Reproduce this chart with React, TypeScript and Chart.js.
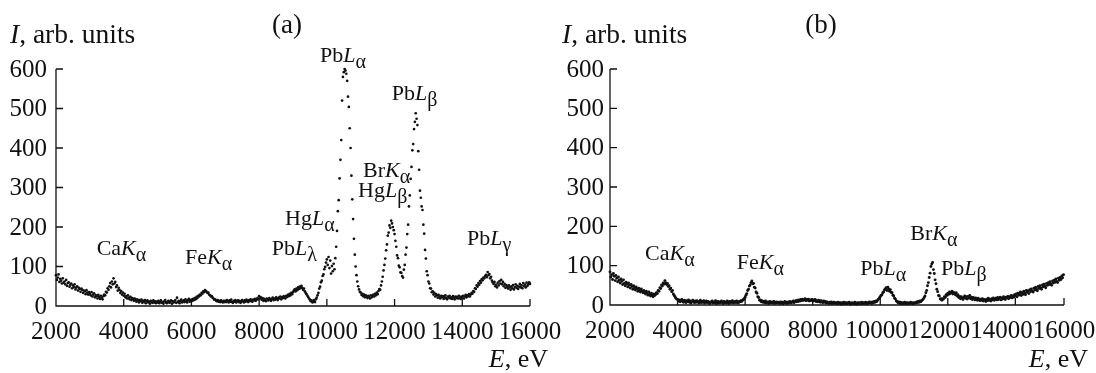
import { useEffect, useRef } from "react";
import { Chart, registerables } from "chart.js";

Chart.register(...registerables);

// ---------- data ----------
const E_START = 2000; // eV, first channel
const E_STEP = 25; // eV per channel

// Panel (a): intensity, arb. units, channels from 2000 eV in 25 eV steps (to 16000 eV)
const A_INTENSITY = [
  78, 66, 72, 80, 61, 69, 64, 57, 70, 59, 62, 55, 66, 51, 58, 60, 49, 54, 57, 45, 52, 48, 55, 42, 47, 50, 39, 46, 43, 36, 44, 41, 33, 39, 37, 30, 40, 34, 29, 35,
  31, 27, 35, 24, 29, 32, 22, 27, 25, 19, 28, 23, 18, 26, 21, 17, 25, 29, 27, 36, 34, 45, 41, 50, 58, 47, 62, 55, 70, 57, 61, 48, 52, 39, 46, 41, 33, 38, 29, 34,
  26, 31, 22, 25, 19, 27, 21, 17, 23, 15, 20, 18, 13, 19, 16, 11, 17, 14, 9, 15, 12, 16, 8, 13, 11, 15, 7, 12, 14, 9, 11, 6, 13, 10, 8, 14, 9, 12, 7, 11,
  9, 13, 7, 11, 14, 8, 10, 6, 12, 15, 9, 7, 11, 13, 8, 10, 14, 6, 12, 9, 11, 15, 8, 21, 10, 13, 7, 12, 16, 9, 11, 14, 10, 17, 12, 9, 15, 18, 11, 14,
  16, 13, 18, 15, 20, 17, 23, 20, 26, 24, 29, 27, 33, 31, 37, 35, 40, 38, 36, 33, 34, 29, 27, 24, 25, 21, 19, 16, 17, 14, 12, 15, 11, 13, 10, 14, 11, 9, 13, 10,
  13, 10, 15, 12, 9, 14, 11, 16, 10, 8, 13, 11, 15, 9, 12, 14, 10, 13, 8, 11, 15, 12, 9, 14, 11, 16, 13, 10, 15, 12, 17, 13, 11, 16, 14, 18, 13, 16, 20, 17,
  25, 19, 22, 16, 20, 13, 18, 15, 12, 19, 16, 14, 20, 17, 13, 18, 21, 15, 19, 16, 22, 18, 15, 21, 19, 24, 17, 22, 20, 25, 21, 19, 26, 23, 28, 25, 31, 27, 33, 30,
  35, 39, 42, 37, 44, 40, 47, 43, 49, 45, 51, 46, 41, 44, 37, 33, 30, 26, 23, 19, 16, 12, 14, 9, 11, 15, 10, 17, 21, 27, 33, 44, 49, 60, 64, 76, 80, 93, 99, 110,
  118, 104, 124, 96, 115, 82, 101, 88, 107, 93, 121, 150, 190, 240, 268, 323, 370, 420, 520, 580, 592, 600, 596, 588, 570, 530, 504, 450, 400, 330, 270, 220, 170, 130, 100, 78, 62, 50, 42, 36,
  34, 28, 31, 25, 29, 22, 27, 24, 20, 26, 23, 19, 27, 22, 25, 29, 24, 31, 27, 34, 30, 38, 43, 41, 52, 62, 74, 90, 104, 120, 141, 156, 178, 186, 204, 198, 216, 209, 200, 192,
  182, 165, 150, 128, 121, 102, 98, 85, 84, 76, 72, 92, 104, 130, 148, 182, 206, 252, 280, 322, 352, 394, 410, 448, 466, 488, 474, 458, 392, 345, 292, 274, 252, 243, 206, 183, 142, 120, 88, 78,
  62, 57, 45, 44, 35, 37, 29, 33, 24, 30, 27, 21, 28, 23, 19, 26, 22, 25, 18, 23, 27, 20, 17, 24, 21, 26, 19, 22, 18, 25, 21, 17, 24, 20, 23, 19, 26, 21, 18, 24,
  21, 26, 19, 24, 28, 22, 27, 25, 30, 24, 29, 33, 31, 38, 36, 45, 43, 52, 49, 58, 54, 63, 59, 68, 65, 72, 70, 76, 79, 73, 86, 78, 81, 70, 74, 64, 60, 56, 61, 50,
  54, 47, 59, 52, 63, 57, 66, 55, 61, 50, 56, 46, 53, 49, 44, 52, 47, 41, 50, 45, 53, 42, 48, 55, 46, 51, 43, 49, 56, 47, 52, 45, 58, 50, 54, 47, 59, 51, 55, 60,
  56,
];

// Panel (b): intensity, arb. units, channels from 2000 eV in 25 eV steps (to 15425 eV)
const B_INTENSITY = [
  84, 71, 77, 65, 80, 73, 62, 75, 68, 59, 71, 63, 56, 66, 60, 52, 64, 55, 49, 58, 53, 46, 56, 50, 43, 52, 47, 40, 49, 44, 38, 46, 41, 35, 43, 38, 33, 41, 36, 31,
  37, 32, 28, 35, 30, 25, 33, 27, 23, 30, 25, 21, 28, 24, 27, 31, 29, 37, 35, 44, 42, 51, 48, 56, 53, 62, 57, 52, 55, 47, 49, 40, 43, 34, 37, 28, 24, 21, 17, 15,
  14, 10, 13, 8, 11, 14, 9, 7, 12, 10, 6, 11, 9, 13, 7, 10, 5, 9, 12, 8, 6, 10, 7, 11, 9, 5, 8, 12, 6, 9, 7, 11, 5, 8, 10, 6, 9, 7, 4, 8,
  7, 10, 5, 8, 6, 11, 4, 7, 9, 5, 8, 6, 10, 7, 4, 9, 6, 8, 5, 10, 7, 4, 9, 6, 8, 11, 5, 7, 9, 6, 10, 7, 5, 9, 8, 11, 9, 12, 14, 16,
  20, 25, 29, 37, 40, 48, 51, 57, 61, 54, 55, 45, 43, 33, 30, 21, 19, 12, 13, 8, 11, 7, 9, 6, 10, 5, 8, 7, 4, 9, 6, 8, 5, 7, 9, 4, 6, 8, 5, 7,
  6, 4, 8, 5, 7, 3, 6, 9, 5, 7, 4, 8, 6, 9, 5, 8, 7, 10, 6, 9, 11, 8, 12, 9, 13, 10, 14, 11, 15, 12, 13, 16, 11, 14, 12, 15, 10, 13, 11, 14,
  13, 10, 12, 14, 9, 11, 8, 12, 10, 7, 11, 8, 6, 10, 7, 9, 5, 8, 6, 4, 7, 5, 8, 3, 6, 7, 4, 6, 5, 3, 7, 4, 6, 5, 2, 6, 4, 7, 3, 5,
  6, 3, 5, 7, 4, 2, 6, 4, 5, 3, 7, 4, 2, 6, 5, 3, 6, 4, 7, 3, 5, 6, 4, 7, 5, 3, 6, 8, 5, 7, 4, 8, 6, 9, 7, 10, 9, 13, 15, 18,
  21, 24, 26, 31, 33, 38, 41, 44, 37, 45, 40, 35, 39, 32, 31, 25, 23, 17, 15, 10, 9, 6, 8, 4, 7, 5, 3, 6, 4, 7, 3, 5, 6, 3, 5, 4, 7, 5, 3, 6,
  4, 6, 5, 8, 6, 9, 7, 10, 8, 11, 13, 15, 19, 23, 31, 37, 49, 57, 70, 81, 98, 104, 108, 90, 80, 64, 54, 40, 34, 24, 23, 15, 16, 12, 16, 15, 21, 19, 26, 24,
  30, 27, 33, 29, 31, 35, 28, 32, 30, 26, 31, 23, 26, 19, 22, 16, 21, 18, 14, 19, 23, 17, 21, 15, 22, 18, 24, 16, 20, 14, 19, 17, 13, 18, 15, 12, 17, 14, 11, 15,
  12, 16, 10, 14, 13, 9, 15, 11, 17, 12, 14, 10, 16, 13, 18, 12, 15, 17, 13, 19, 14, 16, 20, 13, 18, 15, 21, 17, 14, 20, 18, 22, 16, 21, 19, 24, 18, 23, 20, 26,
  23, 28, 21, 30, 25, 29, 33, 24, 31, 27, 35, 30, 26, 37, 32, 36, 29, 39, 34, 41, 36, 33, 43, 38, 45, 40, 36, 47, 42, 49, 44, 40, 51, 46, 53, 48, 44, 55, 50, 57,
  52, 59, 54, 50, 61, 56, 63, 58, 66, 60, 57, 68, 63, 70, 65, 74, 69, 77,
];

const Y_TICKS = [0, 100, 200, 300, 400, 500, 600];
const Y_LABELS = ["0", "100", "200", "300", "400", "500", "600"];

const A_X_TICKS = [2000, 4000, 6000, 8000, 10000, 12000, 14000, 16000];
const A_X_LABELS = ["2000", "4000", "6000", "8000", "10000", "12000", "14000", "16000"];
const B_X_TICKS = [2000, 4000, 6000, 8000, 10000, 12000, 14000];
// the last label of (b) sits at the end of its axis
const B_X_LABELS = ["2000", "4000", "6000", "8000", "10000", "12000", "14000", "16000"];

const A_X_MAX = 16000;
const B_X_MAX = 15440;

type Peak = { base: string; sym: string; sub: string; e: number; i: number };

// annotation anchors: left edge of text (eV) and its baseline (arb. units)
const A_PEAKS: Peak[] = [
  { base: "Ca", sym: "K", sub: "α", e: 3200, i: 128 },
  { base: "Fe", sym: "K", sub: "α", e: 5810, i: 107 },
  { base: "Pb", sym: "L", sub: "λ", e: 8370, i: 128 },
  { base: "Hg", sym: "L", sub: "α", e: 8765, i: 204 },
  { base: "Pb", sym: "L", sub: "α", e: 9800, i: 618 },
  { base: "Pb", sym: "L", sub: "β", e: 11917, i: 521 },
  { base: "Br", sym: "K", sub: "α", e: 11069, i: 327 },
  { base: "Hg", sym: "L", sub: "β", e: 10921, i: 276 },
  { base: "Pb", sym: "L", sub: "γ", e: 14141, i: 154 },
];

const B_PEAKS: Peak[] = [
  { base: "Ca", sym: "K", sub: "α", e: 3037, i: 115 },
  { base: "Fe", sym: "K", sub: "α", e: 5754, i: 91 },
  { base: "Pb", sym: "L", sub: "α", e: 9408, i: 77 },
  { base: "Br", sym: "K", sub: "α", e: 10889, i: 166 },
  { base: "Pb", sym: "L", sub: "β", e: 11799, i: 77 },
];

// ---------- styling ----------
const INK = "#111111";
const SERIF = '"Liberation Serif", "Times New Roman", "DejaVu Serif", serif';
const TICK_LEN = 7;

type PanelCfg = {
  key: string;
  letter: string;
  data: number[];
  xMax: number;
  xTicks: number[];
  xLabels: string[];
  peaks: Peak[];
  canvasLeft: number;
  width: number;
  padding: { left: number; right: number; top: number; bottom: number };
  yLabelGap: number;
  titleX: number;
  letterX: number;
  eLabelRight: number;
  pointRadius: number;
};

const PANELS: PanelCfg[] = [
  {
    key: "a",
    letter: "(a)",
    data: A_INTENSITY,
    xMax: A_X_MAX,
    xTicks: A_X_TICKS,
    xLabels: A_X_LABELS,
    peaks: A_PEAKS,
    canvasLeft: 0,
    width: 580,
    padding: { left: 56, right: 50, top: 69, bottom: 67 },
    yLabelGap: 9,
    titleX: 10,
    letterX: 287,
    eLabelRight: 548,
    pointRadius: 1.35,
  },
  {
    key: "b",
    letter: "(b)",
    data: B_INTENSITY,
    xMax: B_X_MAX,
    xTicks: B_X_TICKS,
    xLabels: B_X_LABELS,
    peaks: B_PEAKS,
    canvasLeft: 550,
    width: 546,
    padding: { left: 60, right: 32, top: 69, bottom: 68 },
    yLabelGap: 6,
    titleX: 12,
    letterX: 271,
    eLabelRight: 538,
    pointRadius: 1.45,
  },
];

function drawPeak(ctx: CanvasRenderingContext2D, p: Peak, x: number, y: number) {
  let cx = x;
  ctx.textAlign = "left";
  ctx.textBaseline = "alphabetic";
  ctx.font = `22px ${SERIF}`;
  ctx.fillText(p.base, cx, y);
  cx += ctx.measureText(p.base).width;
  ctx.font = `italic 22px ${SERIF}`;
  ctx.fillText(p.sym, cx, y);
  cx += ctx.measureText(p.sym).width;
  ctx.font = `20px ${SERIF}`;
  ctx.fillText(p.sub, cx, y + 6);
}

function makeAxesPlugin(cfg: PanelCfg) {
  return {
    id: "customAxes" + cfg.key,
    afterDraw(chart: any) {
      const ctx: CanvasRenderingContext2D = chart.ctx;
      const xs = chart.scales.x;
      const ys = chart.scales.y;
      const { left, right, top, bottom } = chart.chartArea;
      ctx.save();
      ctx.strokeStyle = INK;
      ctx.fillStyle = INK;
      ctx.lineWidth = 1.3;

      // axis lines
      ctx.beginPath();
      ctx.moveTo(left, top);
      ctx.lineTo(left, bottom);
      ctx.lineTo(right, bottom);
      // y ticks (inward)
      for (const v of Y_TICKS) {
        const y = ys.getPixelForValue(v);
        ctx.moveTo(left, y);
        ctx.lineTo(left + TICK_LEN, y);
      }
      // x ticks (inward)
      const xt = [...cfg.xTicks];
      if (cfg.xLabels.length > xt.length) xt.push(xs.max);
      for (const v of xt) {
        const x = xs.getPixelForValue(v);
        ctx.moveTo(x, bottom);
        ctx.lineTo(x, bottom - TICK_LEN);
      }
      ctx.stroke();

      // y tick labels
      ctx.font = `25px ${SERIF}`;
      ctx.textAlign = "right";
      ctx.textBaseline = "middle";
      Y_TICKS.forEach((v, k) => {
        ctx.fillText(Y_LABELS[k], left - cfg.yLabelGap, ys.getPixelForValue(v) + 1);
      });

      // x tick labels, pushed left where they would collide
      ctx.textAlign = "center";
      ctx.textBaseline = "alphabetic";
      const centers = xt.map((v) => xs.getPixelForValue(v));
      const widths = cfg.xLabels.map((s) => ctx.measureText(s).width);
      for (let k = centers.length - 2; k >= 0; k--) {
        const limit = centers[k + 1] - widths[k + 1] / 2;
        if (centers[k] + widths[k] / 2 > limit) centers[k] = limit - widths[k] / 2;
      }
      cfg.xLabels.forEach((s, k) => ctx.fillText(s, centers[k], bottom + 32.5));

      // axis titles
      ctx.textAlign = "left";
      ctx.font = `italic 27.5px ${SERIF}`;
      ctx.fillText("I", cfg.titleX, 43);
      const iw = ctx.measureText("I").width;
      ctx.font = `27.5px ${SERIF}`;
      ctx.fillText(", arb. units", cfg.titleX + iw, 43);

      ctx.font = `26px ${SERIF}`;
      const rest = ", eV";
      const rw = ctx.measureText(rest).width;
      ctx.textAlign = "right";
      ctx.fillText(rest, cfg.eLabelRight, 367);
      ctx.font = `italic 26px ${SERIF}`;
      ctx.fillText("E", cfg.eLabelRight - rw, 367);

      // panel letter
      ctx.font = `27px ${SERIF}`;
      ctx.textAlign = "center";
      ctx.fillText(cfg.letter, cfg.letterX, 33);

      // peak labels
      for (const p of cfg.peaks) {
        drawPeak(ctx, p, xs.getPixelForValue(p.e), ys.getPixelForValue(p.i));
      }
      ctx.restore();
    },
  };
}

function Panel({ cfg }: { cfg: PanelCfg }) {
  const ref = useRef<HTMLCanvasElement | null>(null);
  useEffect(() => {
    if (!ref.current) return;
    const points = cfg.data.map((v, k) => ({ x: E_START + k * E_STEP, y: v }));
    const chart = new Chart(ref.current, {
      type: "scatter",
      data: {
        datasets: [
          {
            data: points,
            pointRadius: cfg.pointRadius,
            pointHoverRadius: cfg.pointRadius,
            pointBackgroundColor: INK,
            pointBorderWidth: 0,
            showLine: false,
            clip: false as any,
          },
        ],
      },
      options: {
        responsive: false,
        animation: false,
        events: [],
        layout: { padding: cfg.padding },
        plugins: { legend: { display: false }, tooltip: { enabled: false } },
        scales: {
          x: { type: "linear", min: E_START, max: cfg.xMax, display: false },
          y: { type: "linear", min: 0, max: 600, display: false },
        },
      },
      plugins: [makeAxesPlugin(cfg)],
    });
    return () => chart.destroy();
  }, [cfg]);
  return (
    <canvas
      ref={ref}
      width={cfg.width}
      height={373}
      style={{ position: "absolute", left: cfg.canvasLeft, top: 0 }}
    />
  );
}

export default function App() {
  return (
    <div style={{ position: "absolute", left: 0, top: 0, width: 1096, height: 373, background: "#fff" }}>
      {PANELS.map((p) => (
        <Panel key={p.key} cfg={p} />
      ))}
    </div>
  );
}
